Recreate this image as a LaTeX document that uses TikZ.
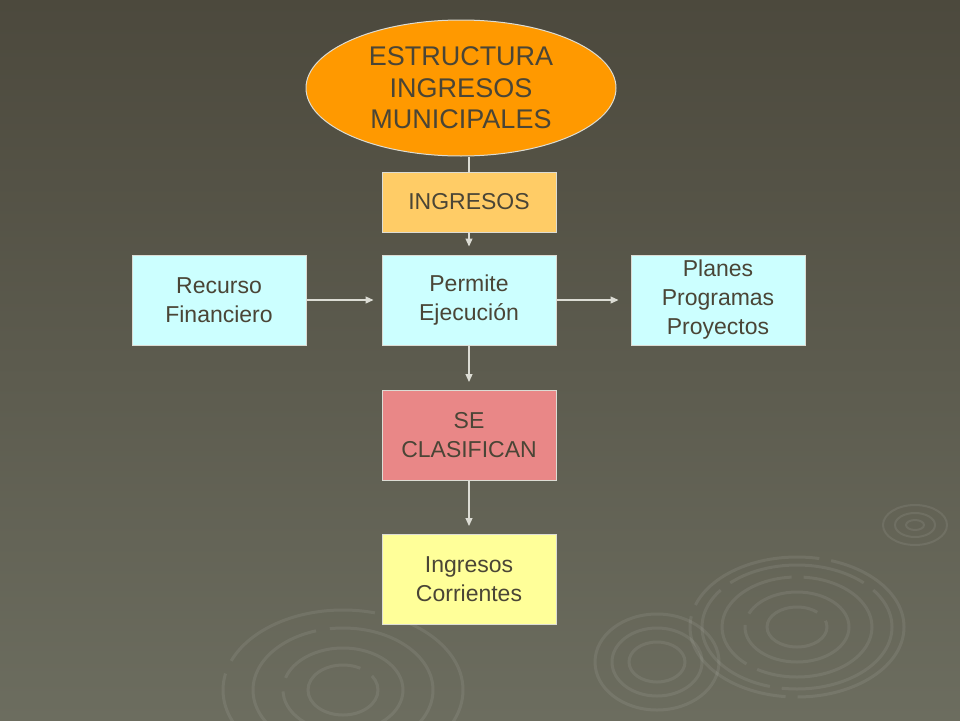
\documentclass[tikz,border=0pt]{standalone}
\usepackage{fontspec}
\setmainfont{Liberation Sans}
\usetikzlibrary{shapes.geometric,arrows.meta}
\definecolor{fondoa}{HTML}{4C493D}
\definecolor{fondob}{HTML}{6C6D5F}
\definecolor{texto}{HTML}{4A4536}
\definecolor{naranja}{HTML}{FF9900}
\definecolor{oro}{HTML}{FFCC66}
\definecolor{celeste}{HTML}{CCFFFF}
\definecolor{rosa}{HTML}{E98787}
\definecolor{amarillo}{HTML}{FFFF99}
\definecolor{linea}{HTML}{DCDCD4}
\begin{document}
\begin{tikzpicture}[x=1pt,y=-1pt,
    caja/.style={draw=linea,line width=1pt,minimum width=174pt,minimum height=90pt,
      inner sep=0pt,align=center,text=texto,font=\fontsize{23}{29}\selectfont},
    flecha/.style={draw=linea,line width=1.2pt,-{Triangle[length=8pt,width=7pt]},shorten >=8pt},
    onda/.style={draw=white,opacity=0.08,line width=3pt}]
  % fondo
  \shade[top color=fondoa,bottom color=fondob] (0,0) rectangle (960,720);
  \useasboundingbox (0,0) rectangle (960,720);
  \begin{scope}
    \clip (0,0) rectangle (960,720);
    \foreach \rx/\ry in {32/20,20/12,9/5}
      \draw[onda,line width=2pt] (915,525) ellipse [x radius=\rx,y radius=\ry];
    \foreach \rx/\ry in {107/70,95/62,75/50,52/35,30/20}
      \draw[onda,dash pattern=on 140pt off 12pt] (797,627) ellipse [x radius=\rx,y radius=\ry];
    \foreach \rx/\ry in {62/48,45/34,28/20}
      \draw[onda] (657,662) ellipse [x radius=\rx,y radius=\ry];
    \foreach \rx/\ry in {120/80,90/62,60/42,35/25}
      \draw[onda,dash pattern=on 160pt off 14pt] (343,690) ellipse [x radius=\rx,y radius=\ry];
  \end{scope}
  % nodos
  \node (est) [ellipse,draw=linea,line width=1pt,fill=naranja,minimum width=310pt,minimum height=136pt,
    inner sep=0pt,align=center,text=texto,font=\fontsize{27}{31.5}\selectfont]
    at (461,88) {ESTRUCTURA\\INGRESOS\\MUNICIPALES};
  \node (ing) [caja,fill=oro,minimum height=60pt] at (469,202) {INGRESOS};
  \node (rec) [caja,fill=celeste] at (219,300) {Recurso\\Financiero};
  \node (per) [caja,fill=celeste] at (469,300) {Permite\\Ejecución};
  \node (pla) [caja,fill=celeste] at (718,300) {Planes\\Programas\\Proyectos};
  \node (cla) [caja,fill=rosa] at (469,435.5) {SE\\CLASIFICAN};
  \node (cor) [caja,fill=amarillo] at (469,579.5) {Ingresos\\Corrientes};
  % conectores
  \draw [draw=linea,line width=1.2pt] (est.south -| ing.north) -- (ing.north);
  \draw [flecha] (ing) -- (per);
  \draw [flecha] (rec) -- (per);
  \draw [flecha,shorten >=12pt] (per) -- (pla);
  \draw [flecha] (per) -- (cla);
  \draw [flecha] (cla) -- (cor);
\end{tikzpicture}
\end{document}
